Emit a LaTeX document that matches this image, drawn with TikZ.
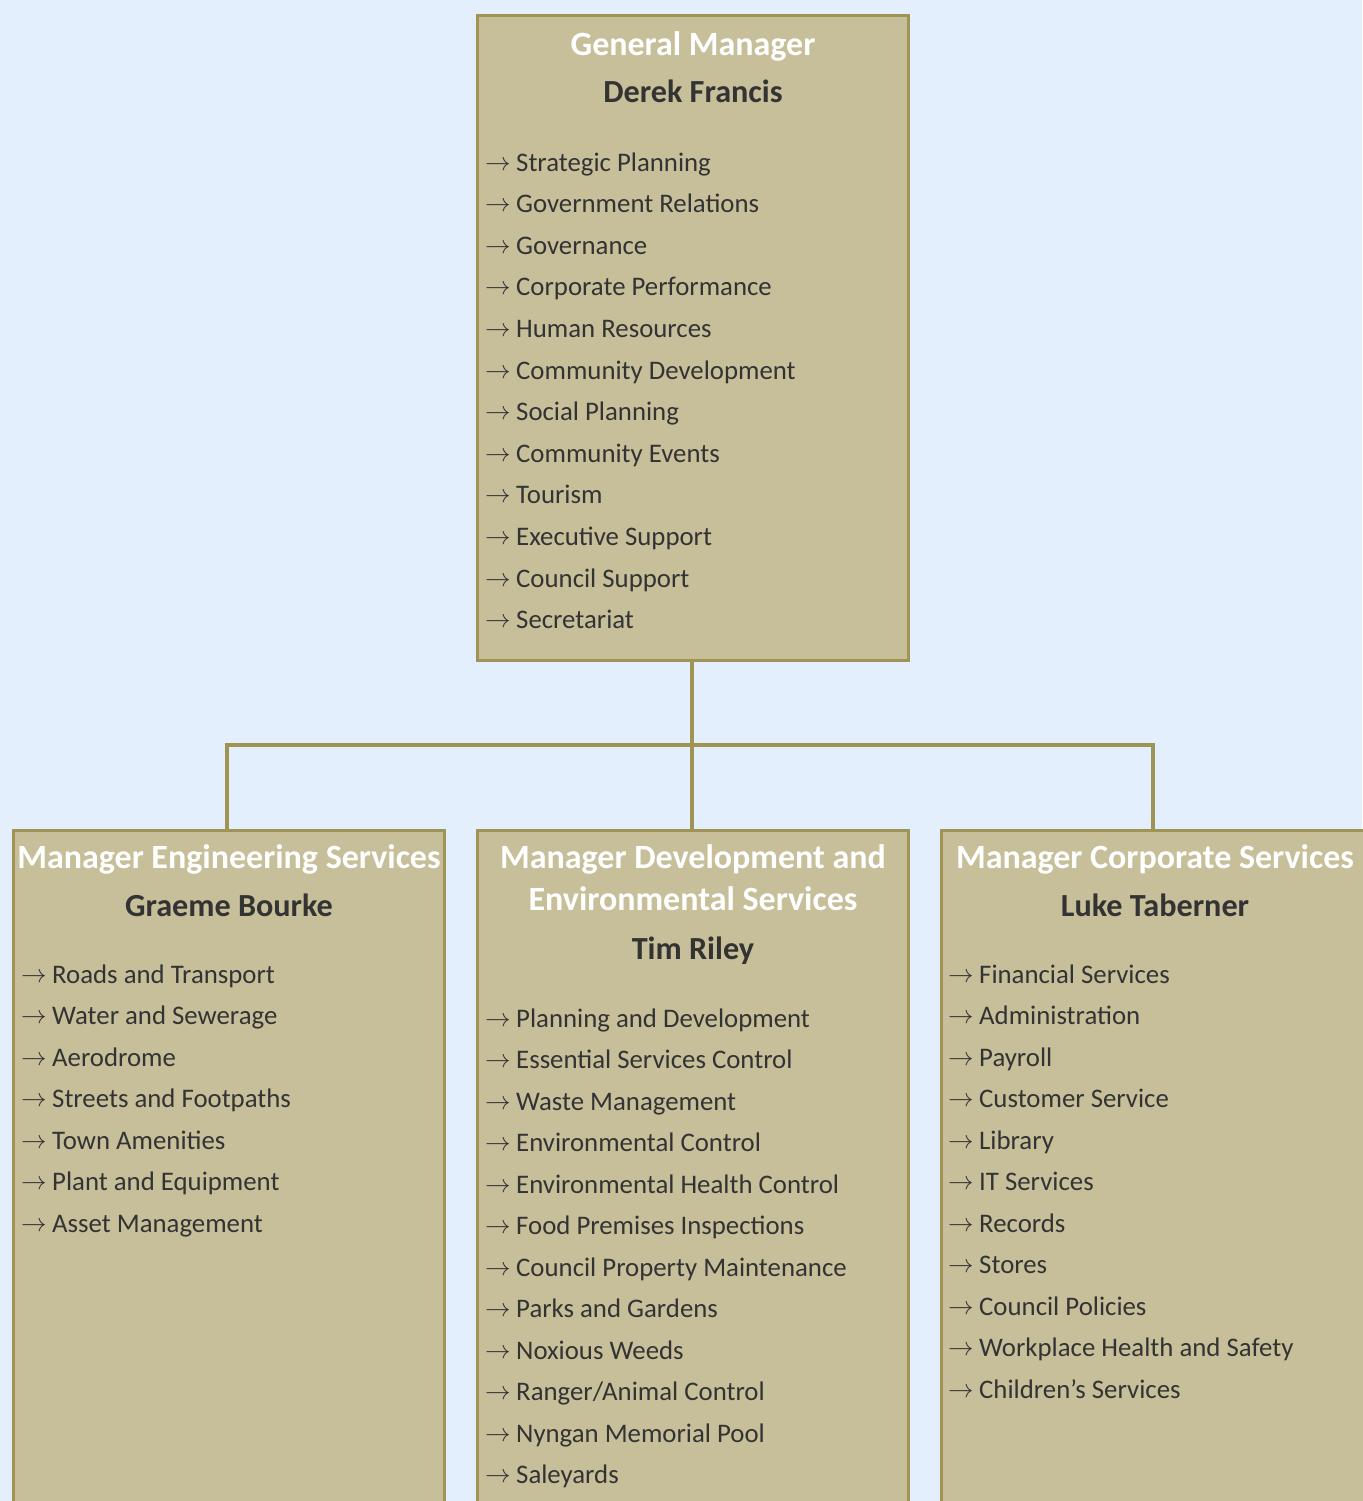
\documentclass[tikz,border=0pt]{standalone}
\usepackage{fontspec}
\usepackage{graphicx}
\setmainfont{Carlito}
\usetikzlibrary{positioning}
\definecolor{skyback}{HTML}{E3EFFD}
\definecolor{boxfill}{HTML}{C6BF9A}
\definecolor{boxline}{HTML}{A09454}
\definecolor{darktext}{HTML}{333333}
\newcommand{\dutyarrow}{\makebox[31pt][l]{\raisebox{1pt}{\scalebox{2.55}{\fontsize{10}{12}\selectfont$\rightarrow$}}}}
\tikzset{
  unit/.style={draw=boxline, fill=boxfill, line width=3pt, minimum width=431pt, anchor=north, inner sep=0pt},
  title/.style={text=white, font=\fontsize{34}{42}\selectfont\bfseries, anchor=base, inner sep=0pt},
  person/.style={text=darktext, font=\fontsize{32.2}{38}\selectfont\bfseries, anchor=base, inner sep=0pt},
  duty/.style={text=darktext, font=\fontsize{26.8}{32}\selectfont, anchor=base west, inner sep=0pt},
  link/.style={draw=boxline, line width=4pt},
}
\begin{document}
\begin{tikzpicture}[x=1pt,y=-1pt]
\fill[skyback] (0,0) rectangle (1362,1501);
\useasboundingbox (0,0) rectangle (1362,1501);
% boxes
\node[unit, minimum height=644pt] (gm) at (693,14.5) {};
\node[unit, minimum height=700pt] (eng) at (229,828.5) {};
\node[unit, minimum height=700pt] (dev) at (693,828.5) {};
\node[unit, minimum height=700pt] (corp) at (1157,828.5) {};
% lines
\coordinate (bus) at (692,745);
\draw[link] (gm.south -| bus) -- (dev.north -| bus);
\draw[link] ([xshift=-2pt]eng.north) |- (bus) -| ([xshift=-4pt]corp.north);
% general manager
\node[title] (gm-t) at (693,56) {General Manager};
\node[person] (gm-p) at (693,103) {Derek Francis};
\foreach \d [count=\i] in {Strategic Planning, Government Relations, Governance, Corporate Performance, Human Resources, Community Development, Social Planning, Community Events, Tourism, Executive Support, Council Support, Secretariat}
  \node[duty] (gm-\i) at (485,{171+41.6*(\i-1)}) {\dutyarrow\d};
% engineering
\node[title] (eng-t) at (229,868) {Manager Engineering Services};
\node[person] (eng-p) at (229,916) {Graeme Bourke};
\foreach \d [count=\i] in {Roads and Transport, Water and Sewerage, Aerodrome, Streets and Footpaths, Town Amenities, Plant and Equipment, Asset Management}
  \node[duty] (eng-\i) at (21,{983+41.5*(\i-1)}) {\dutyarrow\d};
% development
\node[title] (dev-t1) at (693,868) {Manager Development and};
\node[title] (dev-t2) at (693,910) {Environmental Services};
\node[person] (dev-p) at (693,959) {Tim Riley};
\foreach \d [count=\i] in {Planning and Development, Essential Services Control, Waste Management, Environmental Control, Environmental Health Control, Food Premises Inspections, Council Property Maintenance, Parks and Gardens, Noxious Weeds, Ranger/Animal Control, Nyngan Memorial Pool, Saleyards}
  \node[duty] (dev-\i) at (485,{1027+41.5*(\i-1)}) {\dutyarrow\d};
% corporate
\node[title] (corp-t) at (1155,868) {Manager Corporate Services};
\node[person] (corp-p) at (1155,916) {Luke Taberner};
\foreach \d [count=\i] in {Financial Services, Administration, Payroll, Customer Service, Library, IT Services, Records, Stores, Council Policies, Workplace Health and Safety, Children’s Services}
  \node[duty] (corp-\i) at (948,{983+41.5*(\i-1)}) {\dutyarrow\d};
\end{tikzpicture}
\end{document}
